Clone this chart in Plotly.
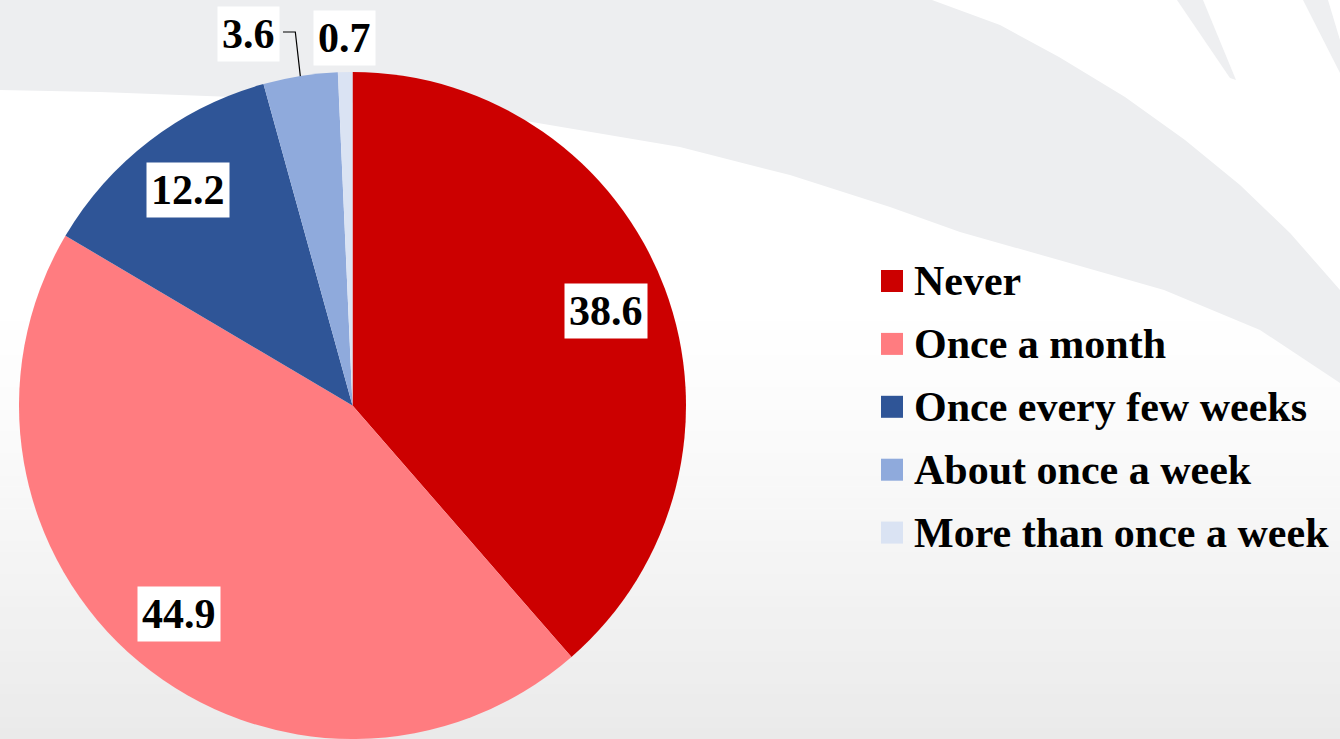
import math
import plotly.graph_objects as go

# ---- data -------------------------------------------------------------
categories = [
    "Never",
    "Once a month",
    "Once every few weeks",
    "About once a week",
    "More than once a week",
]
shares = [38.6, 44.9, 12.2, 3.6, 0.7]
slice_colors = ["#CC0000", "#FF7C80", "#2F5597", "#8FAADC", "#DAE3F3"]

# ---- geometry (pixels) ------------------------------------------------
W, H = 1340, 739
CX, CY, R = 352.5, 405.5, 333.5      # pie centre and radius
INNER_FRAC = 0.812                    # radial position of in-slice labels
OUTER_LABEL_XY = {3: (248, 34), 4: (344, 38)}  # labels set above the pie
FONT = dict(family="Liberation Serif, Times New Roman, serif", size=42,
            color="black", weight="bold")


def fx(x):
    return x / W


def fy(y):
    return 1 - y / H


def on_circle(angle_deg, r):
    a = math.radians(angle_deg)
    return CX + r * math.sin(a), CY - r * math.cos(a)


fig = go.Figure(
    go.Pie(
        labels=categories,
        values=shares,
        sort=False,
        direction="clockwise",
        rotation=0,
        marker=dict(colors=slice_colors, line=dict(width=0)),
        textinfo="none",
        hoverinfo="label+value",
        showlegend=False,
        domain=dict(x=[fx(CX - R), fx(CX + R)], y=[fy(CY + R), fy(CY - R)]),
    )
)

shapes = []

# ---- background: soft grey wash with a sweeping band -------------------
N_BANDS = 40
y_top, y_bot = 300, H
for k in range(N_BANDS):
    y0 = y_top + (y_bot - y_top) * k / N_BANDS
    y1 = y_top + (y_bot - y_top) * (k + 1) / N_BANDS
    t = (k + 0.5) / N_BANDS
    g = round(255 - 21 * t ** 1.3)
    shapes.append(dict(type="rect", xref="paper", yref="paper",
                       x0=0, x1=1, y0=fy(y1), y1=fy(y0) + 0.0005,
                       fillcolor=f"rgb({g},{g},{g})", line=dict(width=0),
                       layer="below"))


def path_of(points, closed=True):
    s = "M " + " L ".join(f"{fx(x):.5f},{fy(y):.5f}" for x, y in points)
    return s + (" Z" if closed else "")


band = [(0, 0), (932, 0), (1000, 25), (1059, 57), (1125, 97), (1185, 140),
        (1240, 185), (1290, 233), (1340, 290),
        (1340, 383), (1260, 330), (1164, 290), (1059, 260), (960, 232),
        (890, 207), (790, 175), (680, 147), (520, 120), (380, 104),
        (233, 97), (100, 92), (0, 90)]
shapes.append(dict(type="path", xref="paper", yref="paper", path=path_of(band),
                   fillcolor="#EDEEF0", line=dict(width=0), layer="below"))
for streak in ([(1177, 0), (1203, 0), (1236, 80), (1230, 78)],
               [(1303, 0), (1328, 0), (1340, 40), (1340, 73)]):
    shapes.append(dict(type="path", xref="paper", yref="paper",
                       path=path_of(streak), fillcolor="#EEEFF1",
                       line=dict(width=0), layer="below"))

# ---- value labels -----------------------------------------------------
total = sum(shares)
mids, cum = [], 0.0
for v in shares:
    mids.append((cum + v / 2) / total * 360)
    cum += v

annotations = []
for i, v in enumerate(shares):
    if i in OUTER_LABEL_XY:
        x, y = OUTER_LABEL_XY[i]
    else:
        x, y = on_circle(mids[i], R * INNER_FRAC)
    annotations.append(dict(x=fx(x), y=fy(y), xref="paper", yref="paper",
                            text=f"{v:.1f}", showarrow=False, font=FONT,
                            bgcolor="white", borderpad=4,
                            xanchor="center", yanchor="middle"))

# leader line from the 3.6 label to its slice
lx, ly = OUTER_LABEL_XY[3]
ex, ey = on_circle(mids[3], R)
leader = [(lx + 35, ly - 2), (ex - 5, ly - 2), (ex, ey)]
shapes.append(dict(type="path", xref="paper", yref="paper",
                   path=path_of(leader, closed=False),
                   line=dict(color="black", width=1.2)))

# ---- legend -----------------------------------------------------------
LEG_X, LEG_Y0, LEG_DY, SQ = 881, 281, 62.9, 22
for i, (name, col) in enumerate(zip(categories, slice_colors)):
    yc = LEG_Y0 + i * LEG_DY
    shapes.append(dict(type="rect", xref="paper", yref="paper",
                       x0=fx(LEG_X), x1=fx(LEG_X + SQ),
                       y0=fy(yc + SQ / 2), y1=fy(yc - SQ / 2),
                       fillcolor=col, line=dict(width=0)))
    annotations.append(dict(x=fx(LEG_X + SQ + 9), y=fy(yc), xref="paper",
                            yref="paper", text=name, showarrow=False,
                            font=FONT, xanchor="left", yanchor="middle"))

fig.update_layout(
    width=W,
    height=H,
    margin=dict(l=0, r=0, t=0, b=0),
    paper_bgcolor="white",
    plot_bgcolor="white",
    shapes=shapes,
    annotations=annotations,
)

fig.write_html("out.html")
